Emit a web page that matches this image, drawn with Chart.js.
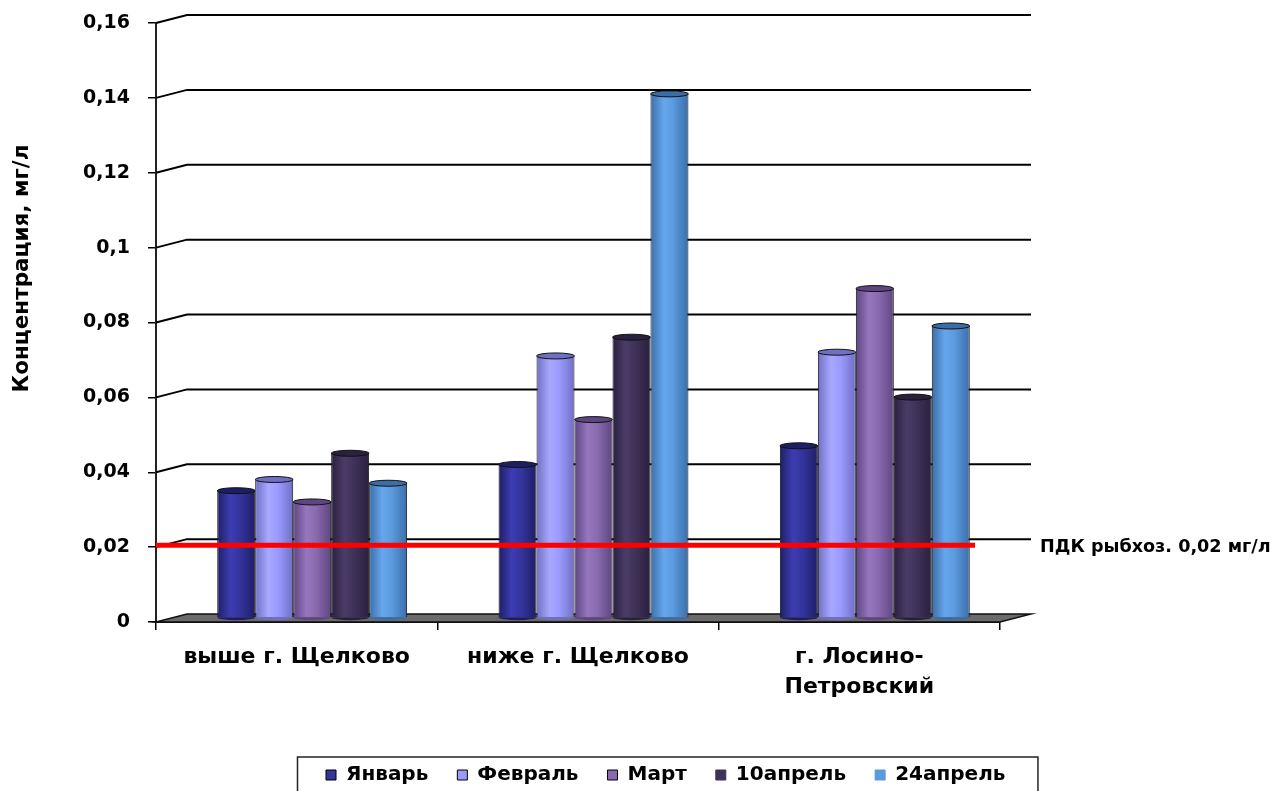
<!DOCTYPE html>
<html>
<head>
<meta charset="utf-8">
<script src="https://cdn.jsdelivr.net/npm/chart.js@4.4.1/dist/chart.umd.min.js"></script>
<style>
  html, body { margin: 0; padding: 0; background: #ffffff; }
  #wrap { position: relative; width: 1275px; height: 791px; }
</style>
</head>
<body>
<div id="wrap"><canvas id="c"></canvas></div>
<script>
// ---- data ----
const categories = ['выше г. Щелково', 'ниже г. Щелково', ['г. Лосино-', 'Петровский']];
const seriesNames = ['Январь', 'Февраль', 'Март', '10апрель', '24апрель'];
const january = [0.034, 0.041, 0.046];
const february = [0.037, 0.070, 0.071];
const march = [0.031, 0.053, 0.088];
const april10 = [0.044, 0.075, 0.059];
const april24 = [0.036, 0.140, 0.078];
const yTickLabels = ['0', '0,02', '0,04', '0,06', '0,08', '0,1', '0,12', '0,14', '0,16'];
const yTitle = 'Концентрация, мг/л';
const pdkValue = 0.02;
const pdkLabel = 'ПДК рыбхоз. 0,02 мг/л';

// ---- styles ----
const baseColors = ['#34349c', '#9a9aff', '#8a6aae', '#3f3258', '#5b9ade'];
const lightColors = ['#3d3db2', '#a8a8ff', '#9676be', '#4a3c68', '#66a6ec'];
const edgeColors = ['#1e1e66', '#6f6fc4', '#5e4682', '#2a2040', '#3b6ea8'];
const legendStroke = ['#000', '#000', '#000', '#3f3258', '#5b9ade'];
const FONT = 'DejaVu Sans';
const catPct = 0.675;
const depthX = 31, depthY = -8;

const seriesValues = [january, february, march, april10, april24];

function cylFill(ctx) {
  const i = ctx.datasetIndex;
  const chart = ctx.chart;
  const xs = chart.scales && chart.scales.x;
  if (ctx.type !== 'data' || !xs || !chart.chartArea) return baseColors[i];
  const catW = xs.width / categories.length;
  const groupW = catW * catPct;
  const bw = groupW / seriesValues.length;
  const cx = xs.getPixelForValue(ctx.dataIndex);
  const left = cx - groupW / 2 + i * bw;
  const g = chart.ctx.createLinearGradient(left, 0, left + bw, 0);
  g.addColorStop(0, edgeColors[i]);
  g.addColorStop(0.35, lightColors[i]);
  g.addColorStop(0.6, baseColors[i]);
  g.addColorStop(1, edgeColors[i]);
  return g;
}

const scene3d = {
  id: 'scene3d',
  afterLayout(chart) {
    const lg = chart.legend;
    lg.left += 297; lg.right += 297;
    lg.top += 4; lg.bottom += 4;
  },
  beforeDatasetsDraw(chart) {
    const {ctx, chartArea: a, scales: {x, y}} = chart;
    ctx.save();
    // back wall gridlines with diagonal connectors
    ctx.strokeStyle = '#000';
    ctx.lineWidth = 2;
    y.ticks.forEach(t => {
      if (t.value === 0) return;
      const py = y.getPixelForValue(t.value);
      ctx.beginPath();
      ctx.moveTo(a.left, py);
      ctx.lineTo(a.left + depthX, py + depthY);
      ctx.lineTo(a.right + depthX, py + depthY);
      ctx.stroke();
    });
    // floor
    const y0 = y.getPixelForValue(0);
    ctx.beginPath();
    ctx.moveTo(a.left, y0);
    ctx.lineTo(a.left + depthX, y0 + depthY);
    ctx.lineTo(a.right + depthX, y0 + depthY);
    ctx.lineTo(a.right, y0);
    ctx.closePath();
    ctx.fillStyle = '#6b6b6b';
    ctx.fill();
    ctx.lineWidth = 1.5;
    ctx.strokeStyle = '#111';
    ctx.stroke();
    ctx.restore();
    // bars sit at middle depth
    ctx.save();
    ctx.translate(depthX / 2, depthY / 2);
  },
  afterDatasetsDraw(chart) {
    const {ctx, chartArea: a, scales: {y}} = chart;
    // cylinder caps
    chart.data.datasets.forEach((ds, di) => {
      const meta = chart.getDatasetMeta(di);
      meta.data.forEach(el => {
        const w = el.width;
        ctx.beginPath();
        ctx.ellipse(el.x, el.y, w / 2, 3, 0, 0, Math.PI * 2);
        ctx.fillStyle = edgeColors[di];
        ctx.fill();
        ctx.lineWidth = 1;
        ctx.strokeStyle = '#111';
        ctx.stroke();
        ctx.beginPath();
        ctx.ellipse(el.x, el.base, w / 2, 3, 0, 0, Math.PI);
        ctx.fillStyle = edgeColors[di];
        ctx.fill();
      });
    });
    ctx.restore();
    // PDK line
    const py = y.getPixelForValue(pdkValue) - 2;
    ctx.save();
    ctx.strokeStyle = '#ff0000';
    ctx.lineWidth = 5;
    ctx.beginPath();
    ctx.moveTo(a.left, py);
    ctx.lineTo(a.right - 25, py);
    ctx.stroke();
    ctx.fillStyle = '#000';
    ctx.font = 'bold 17.6px "' + FONT + '"';
    ctx.textAlign = 'left';
    ctx.textBaseline = 'middle';
    ctx.fillText(pdkLabel, a.right + 40, py + 2);
    ctx.restore();
  },
  afterDraw(chart) {
    const {ctx, chartArea: a} = chart;
    ctx.save();
    // y title
    ctx.translate(a.left - 134, (a.top + a.bottom) / 2 - 54);
    ctx.rotate(-Math.PI / 2);
    ctx.font = 'bold 21.5px "' + FONT + '"';
    ctx.fillStyle = '#000';
    ctx.textAlign = 'center';
    ctx.textBaseline = 'middle';
    ctx.fillText(yTitle, 0, 0);
    ctx.restore();
    // legend frame
    const lg = chart.legend;
    const hb = lg.legendHitBoxes;
    if (hb && hb.length) {
      const last = hb[hb.length - 1];
      const right = last.left + last.width + 32;
      const cy = hb[0].top + hb[0].height / 2;
      ctx.save();
      ctx.strokeStyle = '#222';
      ctx.lineWidth = 1.5;
      ctx.strokeRect(lg.left + 0.5, cy - 18, right - lg.left, 60);
      ctx.restore();
    }
  }
};

new Chart(document.getElementById('c'), {
  type: 'bar',
  data: {
    labels: categories,
    datasets: seriesNames.map((name, i) => ({
      label: name,
      data: seriesValues[i],
      backgroundColor: cylFill,
      borderColor: '#1a1a1a',
      borderWidth: {left: 1, right: 1, top: 0, bottom: 0},
      borderSkipped: false
    }))
  },
  options: {
    responsive: true,
    maintainAspectRatio: false,
    animation: false,
    devicePixelRatio: 1,
    layout: { padding: { left: 0, right: 275, top: 23, bottom: 0 } },
    datasets: { bar: { barPercentage: 1, categoryPercentage: catPct } },
    plugins: {
      tooltip: { enabled: false },
      legend: {
        position: 'bottom',
        align: 'start',
        labels: {
          font: { family: FONT, weight: 'bold', size: 20 },
          color: '#000',
          boxWidth: 10,
          boxHeight: 10,
          padding: 29,
          generateLabels: (chart) => chart.data.datasets.map((ds, i) => ({
            text: ds.label,
            fillStyle: baseColors[i],
            strokeStyle: legendStroke[i],
            lineWidth: 1,
            hidden: false,
            datasetIndex: i,
            fontColor: '#000'
          }))
        }
      }
    },
    scales: {
      x: {
        afterFit: (s) => { s.height = 110; s.paddingLeft = 0; s.paddingRight = 0; },
        offset: true,
        grid: { display: true, offset: true, drawOnChartArea: false, drawTicks: true, tickLength: 8, color: '#000', lineWidth: 1.5 },
        border: { display: true, color: '#000', width: 2 },
        ticks: {
          font: { family: FONT, weight: 'bold', size: 22, lineHeight: 1.36 },
          color: '#000',
          padding: 12,
          maxRotation: 0,
          autoSkip: false
        }
      },
      y: {
        min: 0,
        max: 0.16,
        afterFit: (s) => { s.width = 156; s.paddingTop = 0; s.paddingBottom = 0; },
        grid: { display: true, drawOnChartArea: false, drawTicks: true, tickLength: 8, color: '#000', lineWidth: 1.5 },
        border: { display: true, color: '#222', width: 2 },
        ticks: {
          stepSize: 0.02,
          font: { family: FONT, weight: 'bold', size: 19 },
          color: '#000',
          padding: 18,
          callback: (v, idx) => yTickLabels[idx]
        }
      }
    }
  },
  plugins: [scene3d]
});
</script>
</body>
</html>
